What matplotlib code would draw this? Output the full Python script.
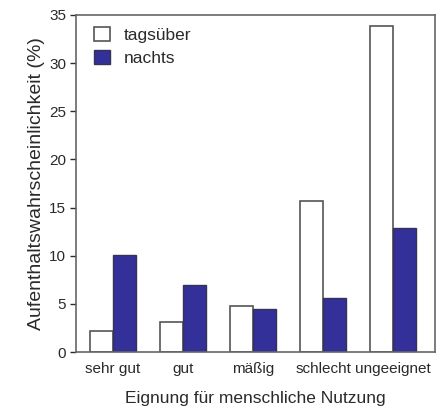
import matplotlib
matplotlib.use("Agg")
import matplotlib.pyplot as plt
import numpy as np

categories = ["sehr gut", "gut", "mäßig", "schlecht", "ungeeignet"]
tagsueber = [2.2, 3.1, 4.8, 15.7, 33.9]
nachts = [10.1, 7.0, 4.5, 5.6, 12.9]

plt.rcParams['font.family'] = ['Liberation Sans', 'DejaVu Sans']
dark = "#2a2a2a"

fig = plt.figure(figsize=(4.46, 4.07), dpi=100)
ax = fig.add_axes([76 / 446, 1 - 352 / 407, 359 / 446, 337 / 407])

x = np.arange(len(categories))
w = 1 / 3
ax.bar(x - w / 2, tagsueber, w, color="white", edgecolor="#555555", linewidth=1.2, label="tagsüber")
ax.bar(x + w / 2, nachts, w, color="#33309a", edgecolor="#333355", linewidth=1.0, label="nachts")

ax.set_xlim(-0.53, 4.6)
ax.set_ylim(0, 35)
ax.set_yticks(range(0, 36, 5))
ax.set_xticks(x)
ax.set_xticklabels(categories)
ax.tick_params(axis="x", length=0, pad=7, labelsize=11, colors=dark)
ax.tick_params(axis="y", length=4, width=1, labelsize=11, colors=dark, direction="out", pad=3)
for s in ax.spines.values():
    s.set_color("#666666")
    s.set_linewidth(1.2)

ax.set_ylabel("Aufenthaltswahrscheinlichkeit (%)", fontsize=14, color=dark, labelpad=3)
ax.set_xlabel("Eignung für menschliche Nutzung", fontsize=12.5, color=dark, labelpad=11)

ax.legend(loc="upper left", bbox_to_anchor=(0.05, 0.965), frameon=False, fontsize=12.5,
          handlelength=0.9, handleheight=0.9, handletextpad=0.8, labelspacing=0.4,
          borderaxespad=0, borderpad=0, labelcolor=dark)

fig.savefig("out.png", dpi=100)
